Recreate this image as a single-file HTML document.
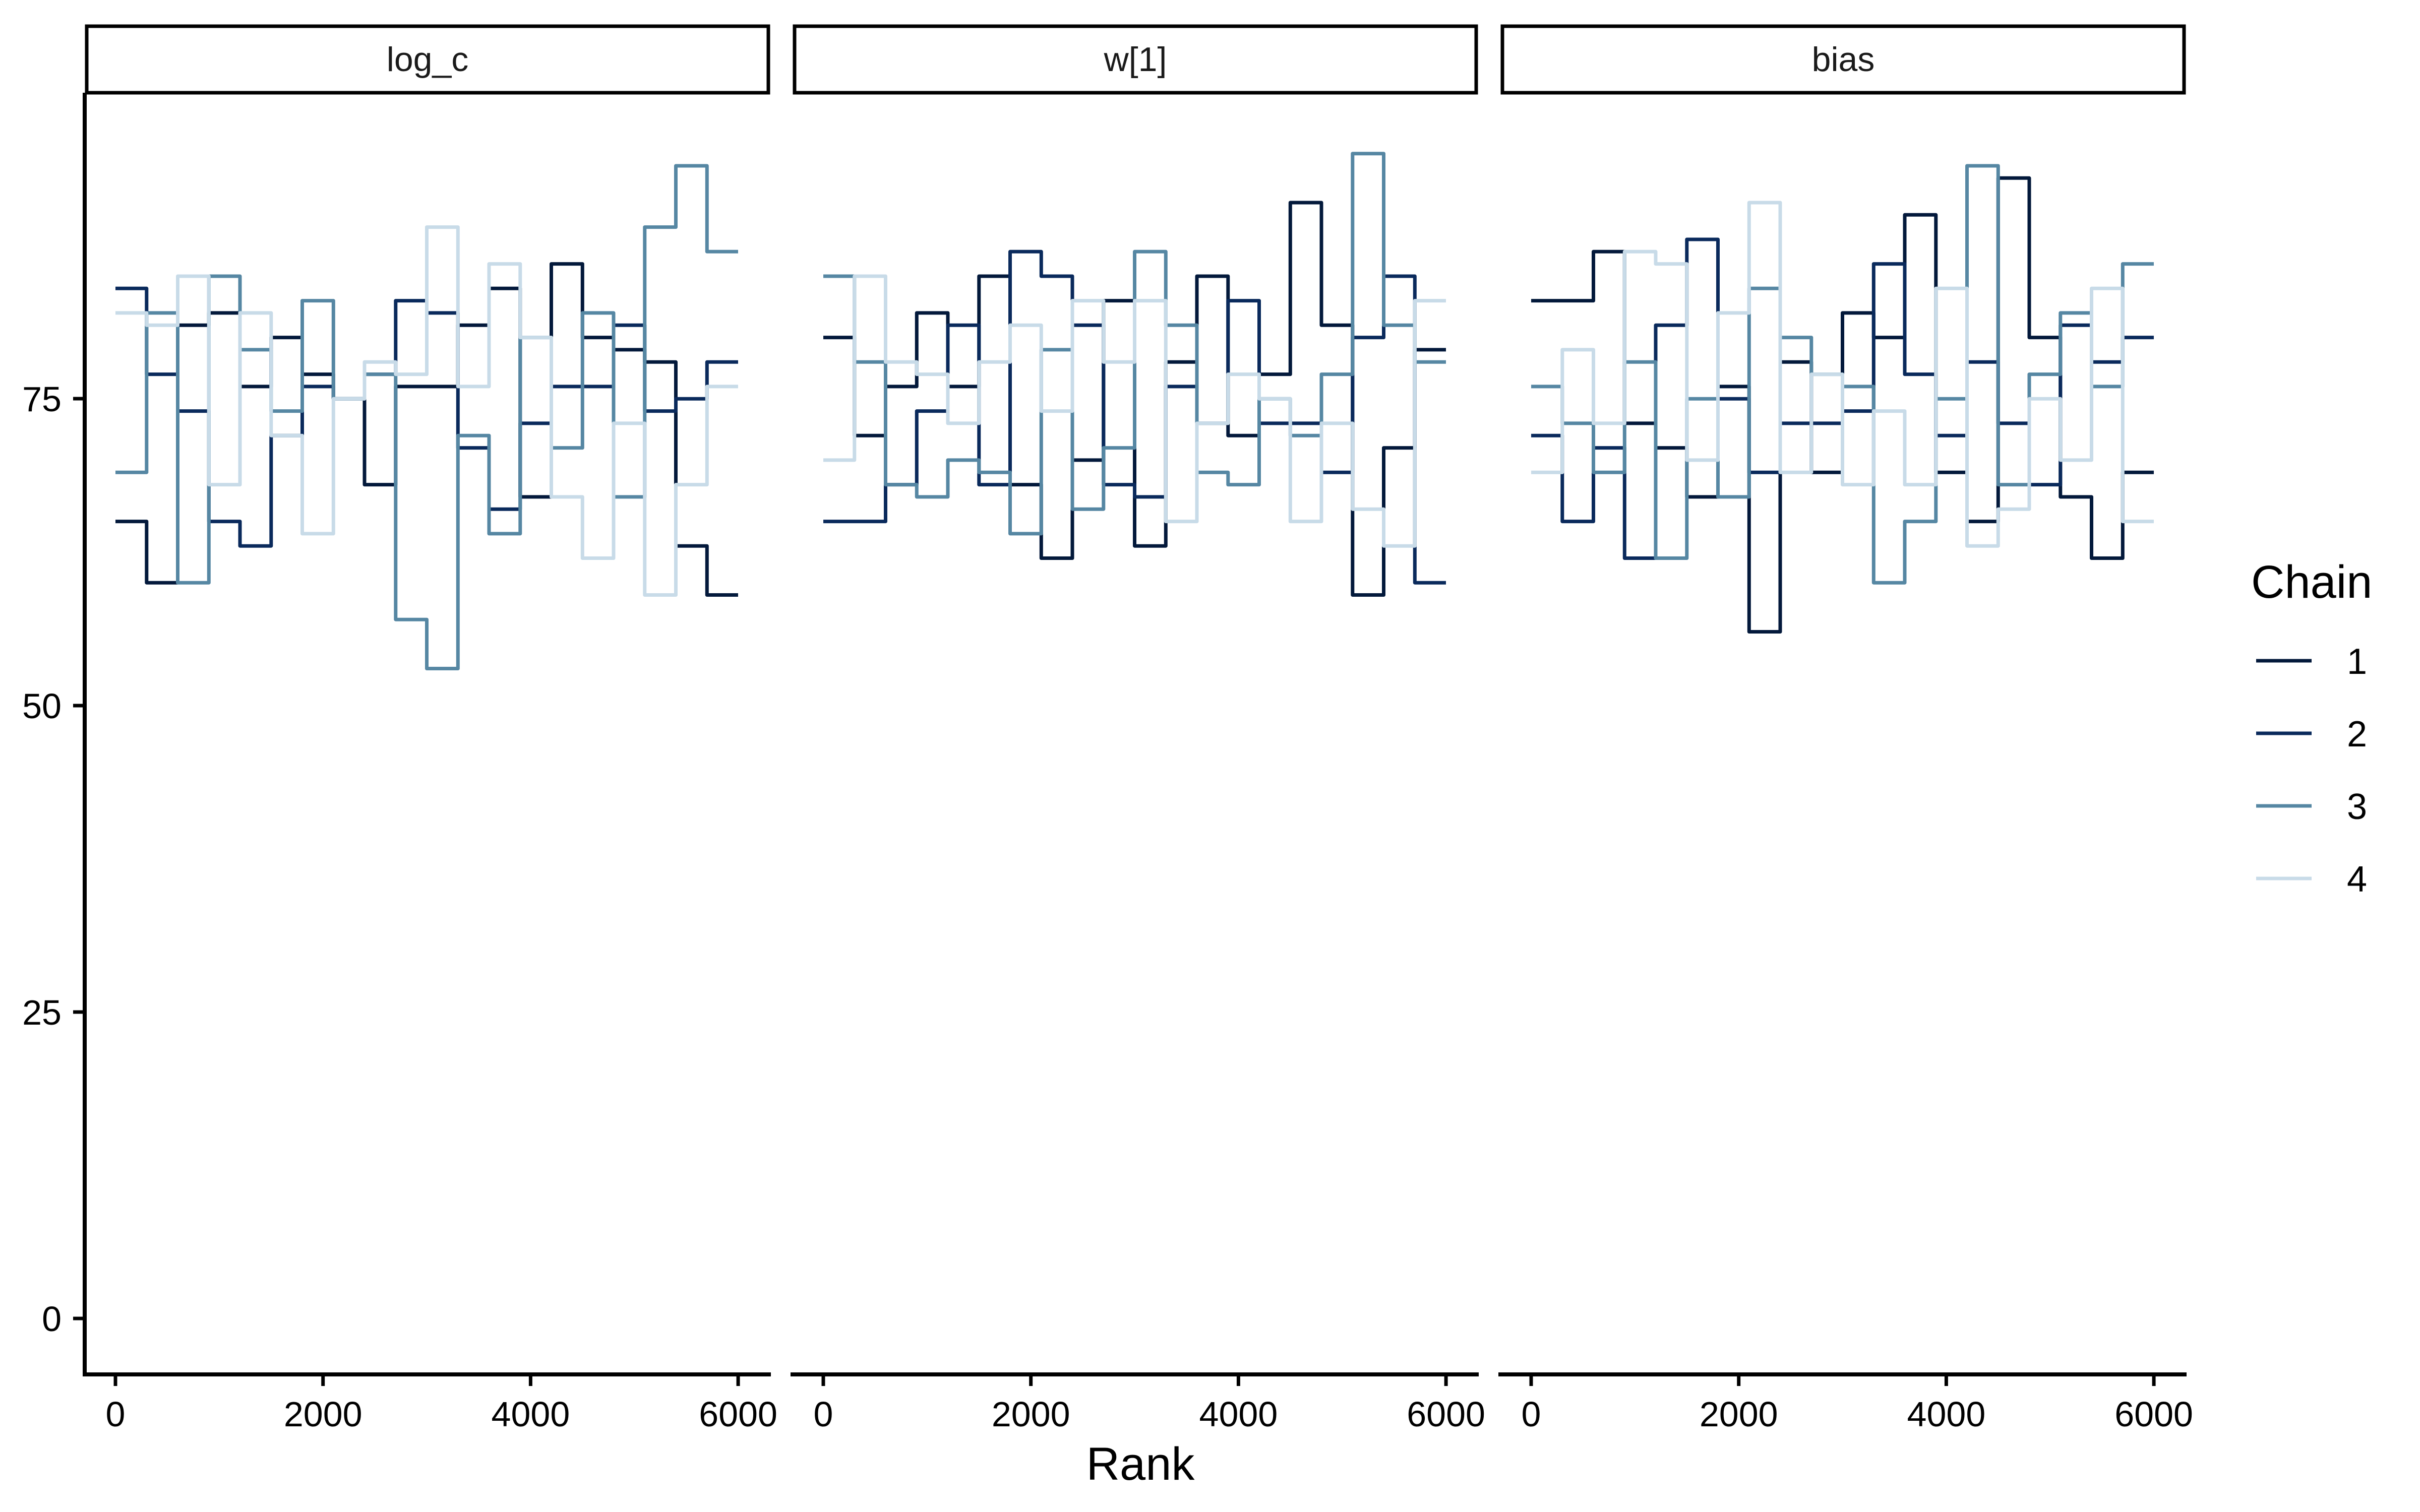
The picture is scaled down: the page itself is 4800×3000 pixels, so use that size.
<!DOCTYPE html>
<html><head><meta charset="utf-8">
<style>html,body{margin:0;padding:0;background:#fff;}svg{display:block;}</style>
</head><body>
<svg id="s" xmlns="http://www.w3.org/2000/svg" width="4800" height="3000" viewBox="0 0 4800 3000" font-family="Liberation Sans, Arial, sans-serif">
<rect width="4800" height="3000" fill="#fff"/>
<g id="data"></g>
<!-- strips -->
<g fill="#fff" stroke="#000" stroke-width="7">
<rect x="172" y="52" width="1352" height="132"/>
<rect x="1576" y="52" width="1352" height="132"/>
<rect x="2980" y="52" width="1352" height="132"/>
</g>
<g font-size="68" text-anchor="middle" fill="#1a1a1a">
<text x="848" y="141">log_c</text>
<text x="2252" y="141">w[1]</text>
<text x="3656" y="141">bias</text>
</g>
<!-- y axis -->
<line x1="168" y1="184" x2="168" y2="2731" stroke="#000" stroke-width="8"/>
<g stroke="#000" stroke-width="7">
<line x1="145" y1="791" x2="168" y2="791"/>
<line x1="145" y1="1400" x2="168" y2="1400"/>
<line x1="145" y1="2008" x2="168" y2="2008"/>
<line x1="145" y1="2616" x2="168" y2="2616"/>
</g>
<g font-size="70" text-anchor="end" fill="#000">
<text x="122" y="816">75</text>
<text x="122" y="1425">50</text>
<text x="122" y="2033">25</text>
<text x="122" y="2641">0</text>
</g>
<g id="xaxes"></g>
<text x="2262" y="2936" font-size="92" text-anchor="middle" fill="#000">Rank</text>
<!-- legend -->
<text x="4465" y="1186" font-size="92" fill="#000">Chain</text>
<g stroke-width="7">
<line x1="4475" y1="1311" x2="4585" y2="1311" stroke="#03193b"/>
<line x1="4475" y1="1455" x2="4585" y2="1455" stroke="#0a2a5c"/>
<line x1="4475" y1="1599" x2="4585" y2="1599" stroke="#5687a3"/>
<line x1="4475" y1="1743" x2="4585" y2="1743" stroke="#c8dbe8"/>
</g>
<g font-size="72" text-anchor="middle" fill="#000">
<text x="4675" y="1337">1</text>
<text x="4675" y="1481">2</text>
<text x="4675" y="1625">3</text>
<text x="4675" y="1769">4</text>
</g>
</svg>
<script>
var D=[
[[65,60,81,82,76,80,77,75,68,76,76,81,84,67,86,80,79,78,63,59],
 [84,77,74,65,63,72,76,75,77,83,82,71,66,73,76,76,81,74,75,78],
 [69,82,60,85,79,74,83,75,77,57,53,72,64,80,71,82,67,89,94,87],
 [82,81,85,68,82,72,64,75,78,77,89,76,86,80,67,62,73,59,68,76]],
[[80,72,76,82,76,85,68,62,70,83,63,78,85,72,77,91,81,59,71,79],
 [65,65,68,74,81,68,87,85,81,68,67,76,73,83,73,73,69,80,85,60],
 [85,78,68,67,70,69,64,79,66,71,87,81,69,68,75,72,77,95,81,78],
 [70,85,78,77,73,78,81,74,83,78,83,65,73,77,75,65,73,66,63,83]],
[[83,83,87,73,71,67,76,56,78,69,82,80,90,69,65,93,80,67,62,69],
 [72,65,71,62,81,88,75,69,73,73,74,86,77,72,78,73,68,81,78,80],
 [76,73,69,78,62,75,67,84,80,77,76,60,65,75,94,68,77,82,76,86],
 [69,79,73,87,86,70,82,91,69,77,68,74,68,84,63,66,75,70,84,65]]];
var C=["#03193b","#0a2a5c","#5687a3","#c8dbe8"];
var NS="http://www.w3.org/2000/svg";
var g=document.getElementById("data"),xa=document.getElementById("xaxes");
function Y(v){return 2616-24.33*v;}
for(var p=0;p<3;p++){
 var x0=229+p*1404,bw=1235/20;
 for(var c=0;c<4;c++){
  var a=D[p][c],d="M"+x0+" "+Y(a[0]).toFixed(1);
  for(var i=0;i<20;i++){
   var xe=(x0+(i+1)*bw).toFixed(1);
   d+=" H"+xe;
   if(i<19) d+=" V"+Y(a[i+1]).toFixed(1);
  }
  var e=document.createElementNS(NS,"path");
  e.setAttribute("d",d);e.setAttribute("fill","none");e.setAttribute("stroke",C[c]);
  e.setAttribute("stroke-width","7");e.setAttribute("stroke-linejoin","round");
  g.appendChild(e);
 }
 var l=document.createElementNS(NS,"line");
 l.setAttribute("x1",164+p*1404);l.setAttribute("x2",1529+p*1404);
 l.setAttribute("y1",2727);l.setAttribute("y2",2727);
 l.setAttribute("stroke","#000");l.setAttribute("stroke-width","8");xa.appendChild(l);
 for(var k=0;k<4;k++){
  var tx=x0+k*411.7;
  var t=document.createElementNS(NS,"line");
  t.setAttribute("x1",tx);t.setAttribute("x2",tx);t.setAttribute("y1",2727);t.setAttribute("y2",2750);
  t.setAttribute("stroke","#000");t.setAttribute("stroke-width","7");xa.appendChild(t);
  var s=document.createElementNS(NS,"text");
  s.setAttribute("x",tx);s.setAttribute("y",2830);s.setAttribute("font-size","70");
  s.setAttribute("text-anchor","middle");s.textContent=String(k*2000);xa.appendChild(s);
 }
}
</script>
</body></html>
